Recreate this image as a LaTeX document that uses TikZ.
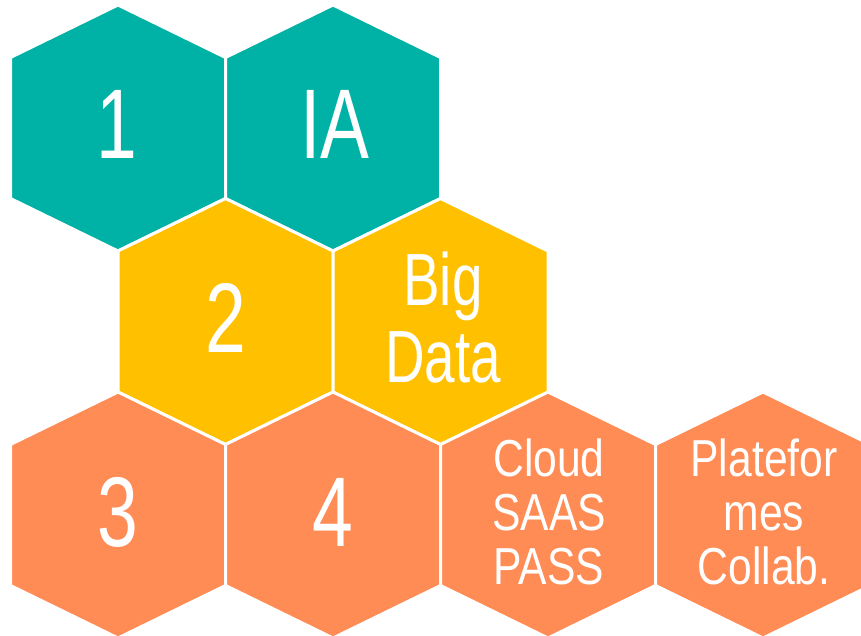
\documentclass[tikz,border=0pt]{standalone}
\usepackage{fontspec}
\setmainfont{Liberation Sans}
\newfontfamily\narrowfont{Liberation Sans}[FakeStretch=0.74]
\newfontfamily\wideishfont{Liberation Sans}[FakeStretch=0.82]
\definecolor{tealhex}{RGB}{0,178,165}
\definecolor{yellowhex}{RGB}{255,192,0}
\definecolor{orangehex}{RGB}{255,139,85}
\tikzset{
  hexa/.style={draw=white,line width=3pt,line join=round},
  hexlabel/.style={text=white,align=center,inner sep=0pt},
  bigtext/.style={hexlabel,font=\narrowfont\fontsize{99}{103}\selectfont},
  midtext/.style={hexlabel,font=\narrowfont\fontsize{74}{77}\selectfont},
  smalltext/.style={hexlabel,font=\wideishfont\fontsize{52}{54}\selectfont}
}
\begin{document}
\begin{tikzpicture}
    [x=1pt,y=-1pt]
    %frame
    \useasboundingbox (0,0) rectangle (861,636);
    \clip (0,0) rectangle (861,636);
    %hexagons
    \foreach \cx/\cy/\col in {118/128/tealhex,333/128/tealhex,
      225.5/321.5/yellowhex,440.5/321.5/yellowhex,
      118/515/orangehex,333/515/orangehex,548/515/orangehex,763/515/orangehex}
    \draw[hexa,fill=\col] (\cx-107.5,\cy-70.5)--(\cx,\cy-123)--(\cx+107.5,\cy-70.5)
      --(\cx+107.5,\cy+70.5)--(\cx,\cy+123)--(\cx-107.5,\cy+70.5)--cycle;
    %labels
    \node[bigtext] (one) at (117,124) {1};
    \node[bigtext] (ia) at (335,124) {IA};
    \node[bigtext] (two) at (226,318) {2};
    \node[midtext] (bigdata) at (443,318) {Big\\Data};
    \node[bigtext] (three) at (118,512) {3};
    \node[bigtext] (four) at (333,512) {4};
    \node[smalltext] (cloud) at (549,512) {Cloud\\SAAS\\PASS};
    \node[smalltext] (platef) at (764,512) {Platefor\\mes\\Collab.};
\end{tikzpicture}
\end{document}
